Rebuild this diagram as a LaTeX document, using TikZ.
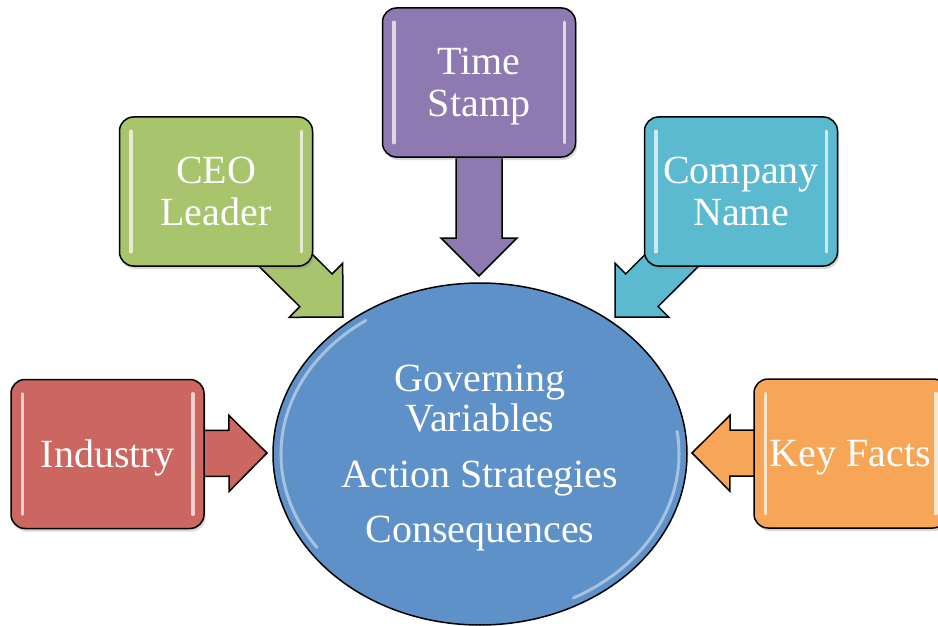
\documentclass[tikz,border=0pt]{standalone}
\usepackage{fontspec}
\setmainfont{Liberation Serif}
\usetikzlibrary{calc,shapes.geometric,shadows}
\pgfdeclarelayer{bg}
\pgfsetlayers{bg,main}
\definecolor{cRed}{RGB}{203,102,96}
\definecolor{cGreen}{RGB}{168,196,108}
\definecolor{cPurple}{RGB}{142,121,176}
\definecolor{cCyan}{RGB}{91,186,208}
\definecolor{cOrange}{RGB}{247,166,88}
\definecolor{cBlue}{RGB}{93,145,199}
\tikzset{
  boxnode/.style={draw=black, line width=1.5pt, rounded corners=14pt,
    minimum width=193pt, minimum height=149pt, inner sep=0pt,
    text=white, align=center, font=\fontsize{40}{42}\selectfont,
    text depth=0pt,
    drop shadow={opacity=0.3, shadow xshift=1.5pt, shadow yshift=-3pt}},
  arrowshape/.style={draw=black, line width=1.5pt, line join=miter},
  shine/.style={white, line width=3.5pt, line cap=round, opacity=0.7},
  rimshine/.style={white, line width=3pt, line cap=round, opacity=0.45}
}
\newcommand\myBigArrow[3]{%
  \coordinate (#1base) at ($(#2)!38pt!(#1)$);
  \draw[arrowshape, fill=#3]
    ($(#1)!23pt!90:(#2)$) -- ($(#1base)!23pt!90:(#2)$) --
    ($(#1base)!38pt!90:(#2)$) -- (#2) --
    ($(#1base)!38pt!-90:(#2)$) -- ($(#1base)!23pt!-90:(#2)$) --
    ($(#1)!23pt!-90:(#2)$) -- cycle;}
\newcommand\myShine[1]{%
  \draw[shine] ([xshift=12pt,yshift=-15pt]#1.north west) -- ([xshift=12pt,yshift=15pt]#1.south west);
  \draw[shine] ([xshift=-12pt,yshift=-15pt]#1.north east) -- ([xshift=-12pt,yshift=15pt]#1.south east);}
\begin{document}
\begin{tikzpicture}[x=1pt, y=-1pt]
  \useasboundingbox (0,0) rectangle (938,626);
  \clip (0,0) rectangle (938,626);

  % boxes
  \node[boxnode, fill=cRed]    (ind)  at (107.5,454)  {Industry};
  \node[boxnode, fill=cGreen]  (ceo)  at (216,191.5)  {CEO\\Leader};
  \node[boxnode, fill=cPurple] (time) at (479,82.5)   {Time\\Stamp};
  \node[boxnode, fill=cCyan]   (comp) at (741,191.5)  {Company\\Name};
  \node[boxnode, fill=cOrange] (key)  at (850.5,453.5) {Key Facts};
  \myShine{ind}\myShine{ceo}\myShine{time}\myShine{comp}\myShine{key}

  % central ellipse
  \node[ellipse, draw=black, line width=1.5pt, fill=cBlue,
        minimum width=414pt, minimum height=342pt, inner sep=0pt,
        text=white, align=center, font=\fontsize{40}{40}\selectfont,
        text depth=0pt]
        (cen) at (480,454)
        {Governing\\Variables\\[16pt]Action Strategies\\[15pt]Consequences};
  \draw[rimshine] (cen.center) ++(125:199pt and 163pt)
        arc[start angle=125, end angle=215, x radius=199pt, y radius=163pt];
  \draw[rimshine] (cen.center) ++(-62:199pt and 163pt)
        arc[start angle=-62, end angle=8, x radius=199pt, y radius=163pt];

  % arrow tips
  \coordinate (tInd)  at (267,453);
  \coordinate (tCeo)  at (343,317);
  \coordinate (tTime) at (479,276);
  \coordinate (tComp) at (615,317);
  \coordinate (tKey)  at (692,453);

  \begin{pgfonlayer}{bg}
    \myBigArrow{ind}{tInd}{cRed}
    \myBigArrow{ceo}{tCeo}{cGreen}
    \myBigArrow{time}{tTime}{cPurple}
    \myBigArrow{comp}{tComp}{cCyan}
    \myBigArrow{key}{tKey}{cOrange}
  \end{pgfonlayer}
\end{tikzpicture}
\end{document}
